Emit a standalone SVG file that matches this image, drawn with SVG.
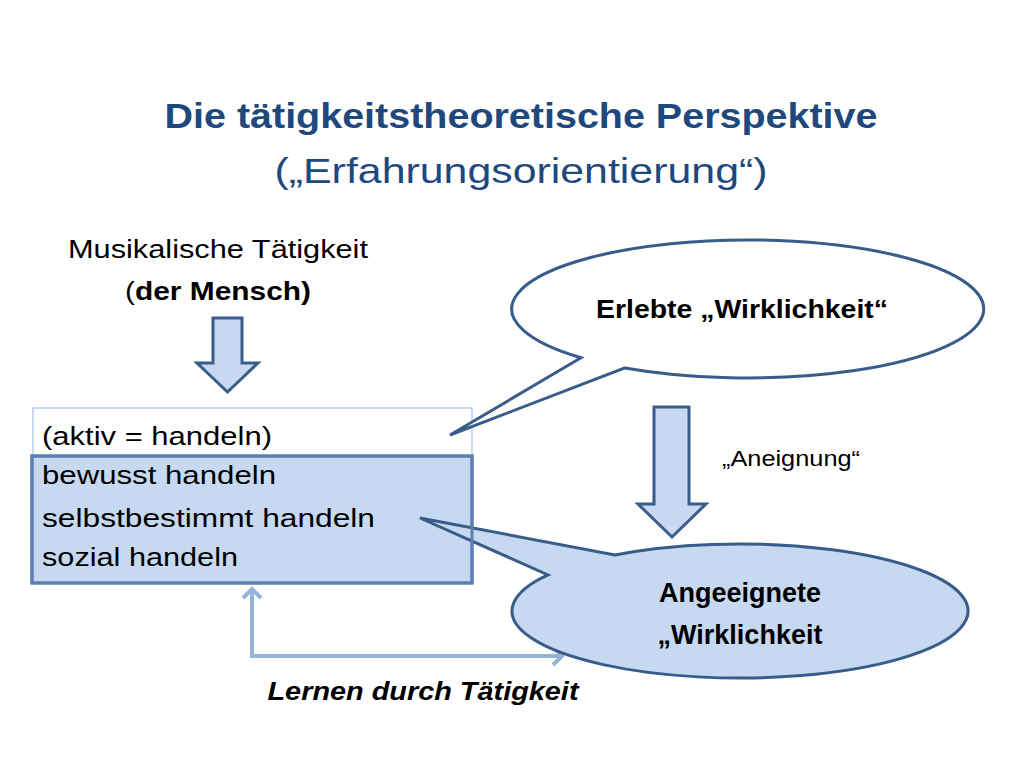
<svg xmlns="http://www.w3.org/2000/svg" width="1024" height="768" viewBox="0 0 1024 768">
<style>
.t{font-family:"Liberation Sans",Arial,sans-serif;fill:#000}
.title{font-family:"Liberation Sans",Arial,sans-serif;fill:#1f497d}
.b{font-weight:bold}
.fill{fill:#c6d9f1;stroke:#385d8a;stroke-width:3;stroke-linejoin:miter}
.conn{fill:none;stroke:#95b3d7;stroke-width:4}
</style>
<defs>
<marker id="chev" markerUnits="userSpaceOnUse" markerWidth="24" markerHeight="24" viewBox="-12 -12 24 24" refX="0" refY="0" orient="auto-start-reverse">
<path d="M-9,-9 L0,0 L-9,9" fill="none" stroke="#95b3d7" stroke-width="4"/>
</marker>
</defs>
<rect width="1024" height="768" fill="#fff"/>
<g id="title">
<text class="title b" x="521" y="128" font-size="35" text-anchor="middle" textLength="713" lengthAdjust="spacingAndGlyphs">Die tätigkeitstheoretische Perspektive</text>
<text class="title" x="521" y="183" font-size="35" text-anchor="middle" textLength="493" lengthAdjust="spacingAndGlyphs">(„Erfahrungsorientierung“)</text>
</g>
<g id="connectors">
<path class="conn" d="M252,589 V656 H562" marker-start="url(#chev)" marker-end="url(#chev)"/>
</g>
<g id="mensch">
<text class="t" x="218" y="258" font-size="25" text-anchor="middle" textLength="300" lengthAdjust="spacingAndGlyphs">Musikalische Tätigkeit</text>
<text class="t" x="218" y="300" font-size="25" text-anchor="middle" textLength="186" lengthAdjust="spacingAndGlyphs">(<tspan class="b">der Mensch)</tspan></text>
</g>
<g id="arrow1">
<polygon class="fill" points="213,318 242,318 242,363 258,363 227.5,392 197,363 213,363"/>
</g>
<g id="handeln-box">
<rect x="33" y="408" width="439" height="48" fill="#fff" stroke="#95b3d7" stroke-width="1"/>
<rect x="32" y="456" width="440" height="127" fill="#c6d9f1" stroke="#5a7fb0" stroke-width="3"/>
</g>
<g id="callout-angeeignet">
<path class="fill" d="M615,555 L420,518 L548,574.9 A228,67 0 1 0 615,555 Z"/>
<rect x="32" y="456" width="440" height="127" fill="none" stroke="#5a7fb0" stroke-width="3"/>
<text class="t b" x="740" y="602" font-size="27" text-anchor="middle">Angeeignete</text>
<text class="t b" x="740" y="644" font-size="27" text-anchor="middle">„Wirklichkeit</text>
</g>
<g id="handeln-text">
<text class="t" x="42" y="445" font-size="25" textLength="230" lengthAdjust="spacingAndGlyphs">(aktiv = handeln)</text>
<text class="t" x="42" y="484" font-size="25" textLength="234" lengthAdjust="spacingAndGlyphs">bewusst handeln</text>
<text class="t" x="42" y="527" font-size="25" textLength="333" lengthAdjust="spacingAndGlyphs">selbstbestimmt handeln</text>
<text class="t" x="42" y="566" font-size="25" textLength="196" lengthAdjust="spacingAndGlyphs">sozial handeln</text>
</g>
<g id="callout-erlebt">
<path d="M581,357.8 L450,435 L625,367.9 A236,69 0 1 0 581,357.8 Z" fill="#fff" stroke="#385d8a" stroke-width="3"/>
<text class="t b" x="742" y="318" font-size="26" text-anchor="middle" textLength="292" lengthAdjust="spacingAndGlyphs">Erlebte „Wirklichkeit“</text>
</g>
<g id="arrow2">
<polygon class="fill" points="654,407 689,407 689,504 706,504 672,537 638,504 654,504"/>
<text class="t" x="722" y="466" font-size="22" textLength="138" lengthAdjust="spacingAndGlyphs">„Aneignung“</text>
</g>
<g id="lernen">
<text class="t b" x="423" y="700" font-size="26" font-style="italic" text-anchor="middle" textLength="311" lengthAdjust="spacingAndGlyphs">Lernen durch Tätigkeit</text>
</g>
</svg>
